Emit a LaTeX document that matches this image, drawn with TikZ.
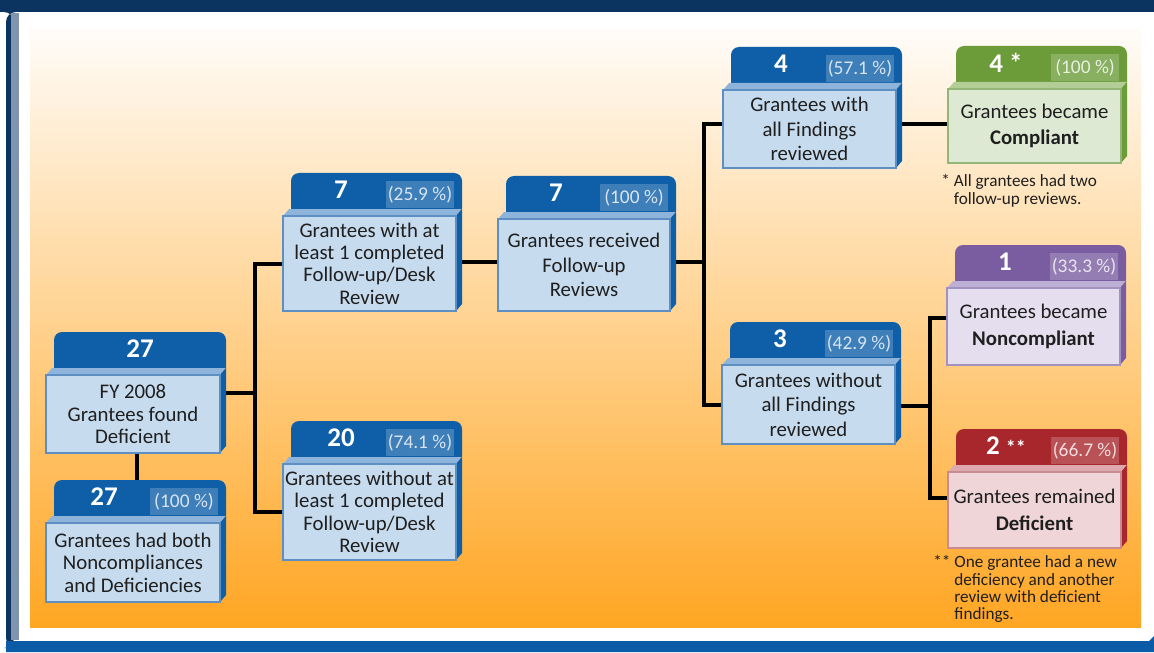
\documentclass[tikz,border=0pt]{standalone}
\usepackage{fontspec}
\setmainfont{Carlito}
\usepackage{xcolor}
\usetikzlibrary{calc}

\definecolor{navy}{HTML}{0B3460}
\definecolor{frameGray}{HTML}{8094AD}
\definecolor{bandBlue}{HTML}{0B5BA6}
\definecolor{bgTop}{HTML}{FFFCF8}
\definecolor{bgMid}{HTML}{FFD596}
\definecolor{bgBot}{HTML}{FFA623}

\definecolor{blueHead}{HTML}{0E5EA8}
\definecolor{blueFace}{HTML}{C6DBEE}
\definecolor{blueBev}{HTML}{8EB4DB}
\definecolor{blueLine}{HTML}{5E8FC2}
\definecolor{greenHead}{HTML}{6C9B3A}
\definecolor{greenFace}{HTML}{DEE9D4}
\definecolor{greenBev}{HTML}{B2CD96}
\definecolor{greenLine}{HTML}{93B577}
\definecolor{purpleHead}{HTML}{7A5DA0}
\definecolor{purpleFace}{HTML}{E4DEEE}
\definecolor{purpleBev}{HTML}{BDAFD4}
\definecolor{purpleLine}{HTML}{A292BF}
\definecolor{redHead}{HTML}{A7272D}
\definecolor{redFace}{HTML}{EFD4D8}
\definecolor{redBev}{HTML}{DDA9AF}
\definecolor{redLine}{HTML}{C88B92}

\pgfdeclarelayer{back}
\pgfdeclarelayer{wires}
\pgfsetlayers{back,wires,main}

\tikzset{
  face/.style={draw=#1Line, fill=#1Face, line width=0.6pt, align=center,
    inner sep=0pt, outer sep=0pt, text=black!88, font=\fontsize{10.4}{11.2}\selectfont},
  num/.style={text=white, font=\fontsize{13.5}{14}\selectfont\bfseries},
  pct/.style={text=white, text opacity=0.8, font=\fontsize{9.7}{10}\selectfont},
  note/.style={align=left, anchor=north west, inner sep=0pt,
    font=\fontsize{8.6}{8.7}\selectfont, text=black!88},
  conn/.style={line width=2pt, black},
}

% #1 name, #2 left, #3 top, #4 right, #5 bottom (front face), #6 colour,
% #7 number, #8 percent, #9 text
\newcommand{\gbox}[9]{%
  \fill[#6Head, rounded corners=4pt] (#2+8,#3) rectangle (#4+6,#3-43);
  \fill[#6Bev] (#2,#3) -- (#4,#3) -- ++(6,-7) -- (#2+6,#3-7) -- cycle;
  \fill[#6Head] (#4,#3) -- ++(6,-7) -- (#4+6,#5-7) -- (#4,#5) -- cycle;
  \node[face=#6, minimum width={(#4-#2)*0.5pt}, minimum height={(#5-#3)*0.5pt}]
    (#1) at ({(#2+#4)/2},{(#3+#5)/2}) {#9};
  \ifx&#8&
    \node[num] (#1n) at ({(#2+#4)/2+7},#3-26) {#7};
  \else
    \fill[white, opacity=0.2] (#4-70,#3-35) rectangle (#4-2,#3-8);
    \node[num] (#1n) at (#2+58,#3-26) {#7};
    \node[pct] (#1p) at (#4-36,#3-21) {#8};
  \fi
}

\begin{document}
\begin{tikzpicture}[x=0.5pt,y=-0.5pt]
\useasboundingbox (0,0) rectangle (1154,652);

% frame and background
\begin{pgfonlayer}{back}
\fill[white] (0,0) rectangle (1154,652);
\fill[navy] (0,0) rectangle (1154,12);
\fill[navy, rounded corners=5pt] (6,12) rectangle (14,648);
\fill[frameGray] (11,13) rectangle (19,640);
\fill[bandBlue] (6,641) -- (1149,641) -- (1154,636) -- (1154,652) -- (6,652) -- cycle;
\shade[top color=bgTop, middle color=bgMid, bottom color=bgBot] (30,30) rectangle (1141,627);
\end{pgfonlayer}

% boxes
\gbox{fy}{46}{375}{220}{453}{blue}{27}{}{FY 2008\\Grantees found\\Deficient}
\gbox{both}{46}{523}{220}{602}{blue}{27}{(100 \%)}{Grantees had both\\Noncompliances\\and Deficiencies}
\gbox{with}{283}{216}{456}{311}{blue}{7}{(25.9 \%)}{Grantees with at\\least 1 completed\\Follow-up/Desk\\Review}
\gbox{without}{283}{464}{456}{560}{blue}{20}{(74.1 \%)}{Grantees without at\\least 1 completed\\Follow-up/Desk\\Review}
\gbox{recv}{498}{219}{670}{311}{blue}{7}{(100 \%)}{Grantees received\\[1pt]Follow-up\\[1pt]Reviews}
\gbox{allrev}{723}{90}{896}{168}{blue}{4}{(57.1 \%)}{Grantees with\\[1pt]all Findings\\[1pt]reviewed}
\gbox{notall}{722}{365}{895}{444}{blue}{3}{(42.9 \%)}{Grantees without\\[1pt]all Findings\\[1pt]reviewed}
\gbox{compl}{948}{89}{1121}{163}{green}{4 *}{(100 \%)}{Grantees became\\[2pt]\textbf{Compliant}}
\gbox{noncompl}{947}{288}{1120}{365}{purple}{1}{(33.3 \%)}{Grantees became\\[2pt]\textbf{Noncompliant}}
\gbox{remdef}{948}{472}{1121}{548}{red}{2 {\fontsize{10}{10}\selectfont**}}{(66.7 \%)}{Grantees remained\\[2pt]\textbf{Deficient}}

% notes
\node[note] (note1) at (941,174) {* All grantees had two\\\phantom{* }follow-up reviews.};
\node[note] (note2) at (933,555) {** One grantee had a new\\\phantom{** }deficiency and another\\\phantom{** }review with deficient\\\phantom{** }findings.};

% connectors
\coordinate (j1) at (255,393);
\coordinate (j2) at (704,262);
\coordinate (j3) at (930,406);
\begin{pgfonlayer}{wires}
\draw[conn] ([xshift=2pt]fy.center) -- ([xshift=2pt]both.center);
\draw[conn] (fy.center |- j1) -- (j1) |- (with.center);
\draw[conn] (j1) |- (without.center);
\draw[conn] (with.center |- j2) -- (recv.center |- j2);
\draw[conn] (recv.center |- j2) -- (j2) |- ([yshift=2.5pt]allrev.center);
\draw[conn] (j2) |- (notall.center);
\draw[conn] ([yshift=2.5pt]allrev.center) -- ([yshift=2.5pt]allrev.center -| compl.center);
\draw[conn] (notall.center |- j3) -- (j3) |- ([yshift=4.25pt]noncompl.center);
\draw[conn] (j3) |- ([yshift=6pt]remdef.center);
\end{pgfonlayer}
\end{tikzpicture}
\end{document}
